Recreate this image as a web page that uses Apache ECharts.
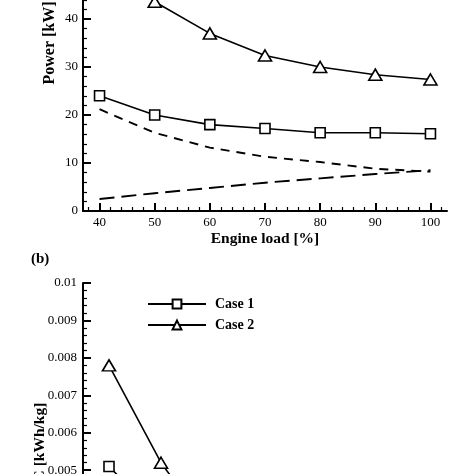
<!DOCTYPE html>
<html>
<head>
<meta charset="utf-8">
<script src="https://cdn.jsdelivr.net/npm/echarts@6/dist/echarts.min.js"></script>
<style>
  html, body { margin: 0; padding: 0; background: #fff; }
  #main { width: 474px; height: 474px; }
</style>
</head>
<body>
<div id="main"></div>
<script>
// engine load [%]
const loads = [40, 50, 60, 70, 80, 90, 100];
// (a) power [kW]
const powerCase1 = [24.0, 20.0, 18.0, 17.2, 16.3, 16.3, 16.1];
const powerCase2 = [53.0, 43.6, 37.0, 32.4, 30.0, 28.4, 27.4];
const powerDashShort = [21.2, 16.3, 13.2, 11.3, 10.2, 8.8, 8.2];
const powerDashLong = [2.5, 3.7, 4.8, 5.9, 6.8, 7.7, 8.5];
// (b) specific consumption [kWh/kg] (only the top part is visible)
const secCase1 = [0.0051, 0.0037, 0.0031, 0.0028, 0.0026, 0.0025, 0.0024];
const secCase2 = [0.0078, 0.0052, 0.0033, 0.0029, 0.0026, 0.0024, 0.0023];
// tick values of the power chart x axis
const majorTicks = [40, 50, 60, 70, 80, 90, 100];
const minorTicks = [38, 42, 44, 46, 48, 52, 54, 56, 58, 62, 64, 66, 68, 72, 74, 76, 78, 82, 84, 86, 88, 92, 94, 96, 98, 102];

const pairs = (xs, ys) => xs.map((x, i) => [x, ys[i]]);

const font = "'Liberation Serif', 'Times New Roman', serif";
const chart = echarts.init(document.getElementById('main'));

const axisLine = { show: true, lineStyle: { color: '#000', width: 2 } };
const label = { color: '#000', fontFamily: font, fontSize: 13 };
const nameStyle = { color: '#000', fontFamily: font, fontSize: 15.5, fontWeight: 'bold' };

const markerSeries = (name, data, symbol, size, xi, yi) => ({
  name: name,
  type: 'line',
  xAxisIndex: xi,
  yAxisIndex: yi,
  data: data,
  symbol: symbol,
  symbolSize: size,
  lineStyle: { color: '#000', width: 1.6 },
  itemStyle: { color: '#fff', borderColor: '#000', borderWidth: 1.6 }
});

const dashSeries = (name, data, dash) => ({
  name: name,
  type: 'line',
  xAxisIndex: 0,
  yAxisIndex: 0,
  data: data,
  symbol: 'none',
  lineStyle: { color: '#000', width: 1.9, type: dash }
});

const option = {
  animation: false,
  backgroundColor: '#fff',
  title: {
    text: '(b)',
    left: 26,
    top: 247,
    textStyle: { color: '#000', fontFamily: font, fontSize: 15, fontWeight: 'bold' }
  },
  legend: {
    data: ['Case 1', 'Case 2'],
    orient: 'vertical',
    left: 147,
    top: 297,
    padding: 0,
    itemWidth: 58,
    itemHeight: 11,
    itemGap: 7,
    textStyle: { color: '#000', fontFamily: font, fontSize: 14, fontWeight: 'bold', padding: [0, 0, 0, 4] }
  },
  grid: [
    { left: 83, top: -125, width: 364, height: 336, containLabel: false, outerBoundsMode: 'none' },
    { left: 83, top: 283, width: 364, height: 337, containLabel: false, outerBoundsMode: 'none' }
  ],
  xAxis: [
    {
      type: 'value', gridIndex: 0, position: 'bottom', min: 37, max: 103,
      name: 'Engine load [%]', nameLocation: 'middle', nameGap: 20, nameMoveOverlap: false, nameTextStyle: nameStyle,
      axisLine: axisLine,
      axisTick: { show: true, inside: true, length: 8, customValues: majorTicks, lineStyle: { color: '#000', width: 2 } },
      axisLabel: Object.assign({ customValues: majorTicks, margin: 5 }, label),
      splitLine: { show: false }
    },
    {
      type: 'value', gridIndex: 0, position: 'bottom', min: 37, max: 103,
      axisLine: { show: false },
      axisTick: { show: true, inside: true, length: 4, customValues: minorTicks, lineStyle: { color: '#000', width: 1.2 } },
      axisLabel: { show: false },
      splitLine: { show: false }
    },
    {
      type: 'value', gridIndex: 1, min: 35, max: 105, show: false
    }
  ],
  yAxis: [
    {
      type: 'value', gridIndex: 0, min: 0, max: 70, interval: 10,
      name: 'Power [kW]', nameLocation: 'middle', nameGap: 25, nameMoveOverlap: false,
      nameTextStyle: Object.assign({}, nameStyle, { fontSize: 16 }),
      axisLine: axisLine,
      axisTick: { show: true, inside: true, length: 8, lineStyle: { color: '#000', width: 2 } },
      minorTick: { show: true, splitNumber: 5, length: 4, lineStyle: { color: '#000', width: 1.2 } },
      axisLabel: Object.assign({ margin: 5 }, label),
      splitLine: { show: false }
    },
    {
      type: 'value', gridIndex: 1, min: 0.001, max: 0.01, interval: 0.001,
      name: 'SEC [kWh/kg]', nameLocation: 'middle', nameGap: 35, nameMoveOverlap: false, nameTextStyle: nameStyle,
      axisLine: axisLine,
      axisTick: { show: true, inside: true, length: 8, lineStyle: { color: '#000', width: 2 } },
      minorTick: { show: true, splitNumber: 5, length: 4, lineStyle: { color: '#000', width: 1.2 } },
      axisLabel: Object.assign({ margin: 6 }, label),
      splitLine: { show: false }
    }
  ],
  series: [
    dashSeries('Dashed (short)', pairs(loads, powerDashShort), [9, 7]),
    dashSeries('Dashed (long)', pairs(loads, powerDashLong), [15, 7]),
    markerSeries('Case 1', pairs(loads, powerCase1), 'rect', 10, 0, 0),
    markerSeries('Case 2', pairs(loads, powerCase2), 'triangle', [13, 11], 0, 0),
    markerSeries('Case 1', pairs(loads, secCase1), 'rect', 10, 2, 1),
    markerSeries('Case 2', pairs(loads, secCase2), 'triangle', [13, 11], 2, 1)
  ]
};

chart.setOption(option);
</script>
</body>
</html>
